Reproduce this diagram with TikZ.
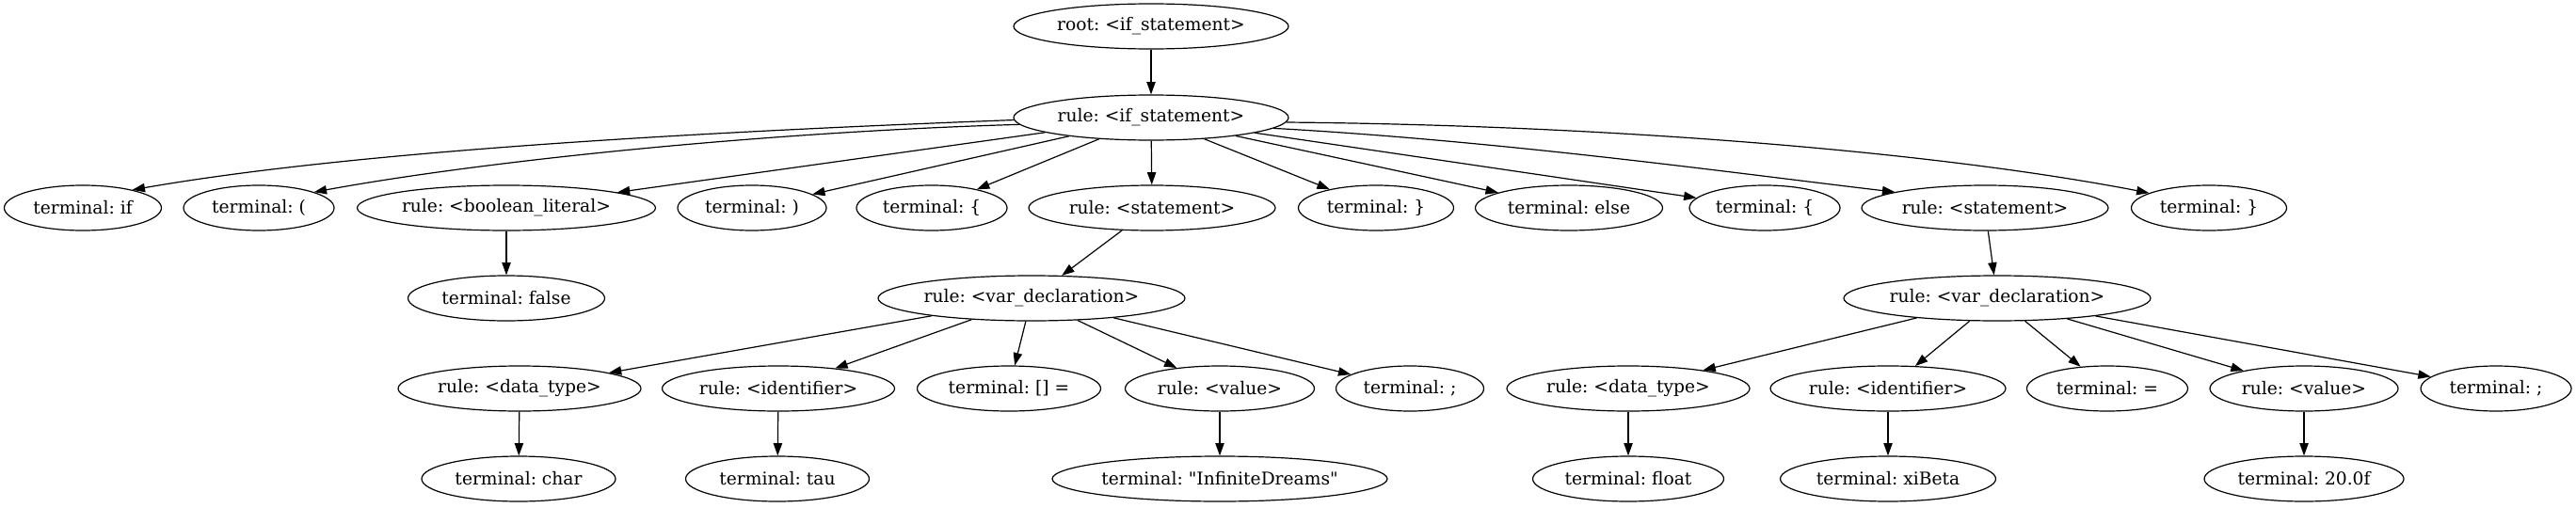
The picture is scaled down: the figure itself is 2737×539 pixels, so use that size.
\documentclass[tikz,border=0pt]{standalone}
\usepackage{fontspec}
\setmainfont{DejaVu Serif}
\newfontfamily\gvfont{DejaVu Serif}
\usetikzlibrary{shapes.geometric,arrows.meta}
\begin{document}
\frenchspacing
\begin{tikzpicture}[x=0.75pt,y=-0.75pt,
  gv/.style={ellipse,draw,line width=0.9pt,inner sep=0pt,minimum height=36pt,
    font=\gvfont\fontsize{14pt}{16pt}\selectfont\frenchspacing},
  ed/.style={-{Triangle[length=10pt,width=7pt]},line width=0.9pt}]
\useasboundingbox (0,0) rectangle (2737,539);
% rank 0,1
\node[gv,minimum width=219pt] (root) at (1223,28) {root: <if\_statement>};
\node[gv,minimum width=219pt] (ifs) at (1223,125) {rule: <if\_statement>};
% rank 2
\node[gv,minimum width=125.25pt] (tif) at (88,221) {terminal: if};
\node[gv,minimum width=120pt] (tlp) at (275,221) {terminal: (};
\node[gv,minimum width=237.75pt] (bool) at (538,221) {rule: <boolean\_literal>};
\node[gv,minimum width=118.5pt] (trp) at (799,221) {terminal: )};
\node[gv,minimum width=120pt] (tlb) at (990,221) {terminal: \{};
\node[gv,minimum width=196.5pt] (stA) at (1224,221) {rule: <statement>};
\node[gv,minimum width=123.75pt] (trb) at (1462,221) {terminal: \}};
\node[gv,minimum width=149.25pt] (telse) at (1667,221) {terminal: else};
\node[gv,minimum width=120pt] (tlbB) at (1875,221) {terminal: \{};
\node[gv,minimum width=196.5pt] (stB) at (2109,221) {rule: <statement>};
\node[gv,minimum width=123.75pt] (trbB) at (2347,221) {terminal: \}};
% rank 3
\node[gv,minimum width=156.75pt] (tfalse) at (538,317) {terminal: false};
\node[gv,minimum width=244.5pt] (vdA) at (1096,317) {rule: <var\_declaration>};
\node[gv,minimum width=244.5pt] (vdB) at (2122,317) {rule: <var\_declaration>};
% rank 4
\node[gv,minimum width=193.5pt] (dtA) at (552,413) {rule: <data\_type>};
\node[gv,minimum width=185.25pt] (idA) at (827,413) {rule: <identifier>};
\node[gv,minimum width=146.25pt] (tbr) at (1072,413) {terminal: [] =};
\node[gv,minimum width=150.75pt] (valA) at (1296,413) {rule: <value>};
\node[gv,minimum width=117.75pt] (semiA) at (1498,413) {terminal: ;};
\node[gv,minimum width=193.5pt] (dtB) at (1730,413) {rule: <data\_type>};
\node[gv,minimum width=187.5pt] (idB) at (2006,413) {rule: <identifier>};
\node[gv,minimum width=128.25pt] (teq) at (2239,413) {terminal: =};
\node[gv,minimum width=150pt] (valB) at (2448,413) {rule: <value>};
\node[gv,minimum width=120pt] (semiB) at (2652,413) {terminal: ;};
% rank 5
\node[gv,minimum width=154.5pt] (tchar) at (551,509) {terminal: char};
\node[gv,minimum width=146.25pt] (ttau) at (826,509) {terminal: tau};
\node[gv,minimum width=267pt] (tinf) at (1296,509) {terminal: "InfiniteDreams"};
\node[gv,minimum width=152.25pt] (tfloat) at (1730,509) {terminal: float};
\node[gv,minimum width=171.75pt] (txi) at (2006,509) {terminal: xiBeta};
\node[gv,minimum width=159pt] (tnum) at (2448,509) {terminal: 20.0f};
% edges
\draw[ed] (root) -- (ifs);
\draw[ed] (ifs.181) .. controls (750,140) and (380,160) .. (tif.20);
\draw[ed] (ifs.183) .. controls (820,140) and (520,170) .. (tlp.16);
\draw[ed] (ifs) -- (bool);
\draw[ed] (ifs) -- (trp);
\draw[ed] (ifs) -- (tlb);
\draw[ed] (ifs) -- (stA);
\draw[ed] (ifs) -- (trb);
\draw[ed] (ifs) -- (telse);
\draw[ed] (ifs) -- (tlbB);
\draw[ed] (ifs.-5) .. controls (1600,150) and (1850,185) .. (stB.170);
\draw[ed] (ifs.-2) .. controls (1700,133) and (2050,160) .. (trbB.166);
\draw[ed] (bool) -- (tfalse);
\draw[ed] (stA) -- (vdA);
\draw[ed] (stB) -- (vdB);
\draw[ed] (vdA) -- (dtA);
\draw[ed] (vdA) -- (idA);
\draw[ed] (vdA) -- (tbr);
\draw[ed] (vdA) -- (valA);
\draw[ed] (vdA) -- (semiA);
\draw[ed] (vdB) -- (dtB);
\draw[ed] (vdB) -- (idB);
\draw[ed] (vdB) -- (teq);
\draw[ed] (vdB) -- (valB);
\draw[ed] (vdB) -- (semiB);
\draw[ed] (dtA) -- (tchar);
\draw[ed] (idA) -- (ttau);
\draw[ed] (valA) -- (tinf);
\draw[ed] (dtB) -- (tfloat);
\draw[ed] (idB) -- (txi);
\draw[ed] (valB) -- (tnum);
\end{tikzpicture}
\end{document}
